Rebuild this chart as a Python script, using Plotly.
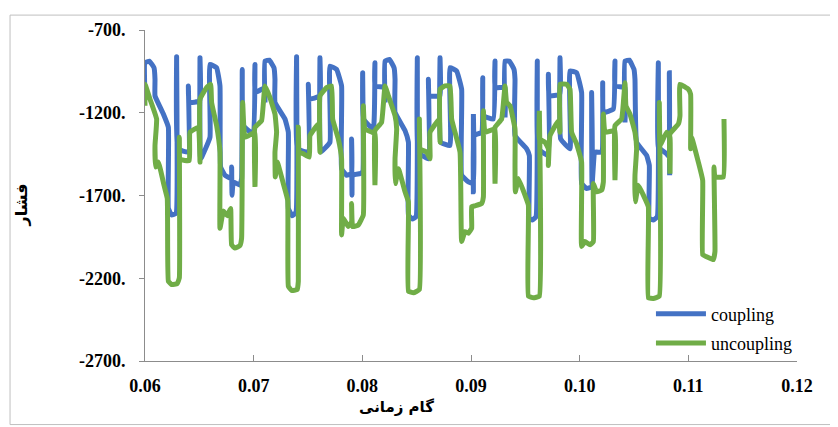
import plotly.graph_objects as go

# ---- data ----
coupling_x = [
    0.06000, 0.06000, 0.06040, 0.06083, 0.06092, 0.06092, 0.06169, 0.06215, 0.06215, 0.06245,
    0.06285, 0.06291, 0.06301, 0.06399, 0.06399, 0.06405, 0.06506, 0.06506, 0.06512, 0.06598,
    0.06598, 0.06659, 0.06690, 0.06696, 0.06736, 0.06797, 0.06797, 0.06801, 0.06813, 0.06874,
    0.06889, 0.06895, 0.06905, 0.06997, 0.07012, 0.07012,
    0.07104, 0.07104, 0.07104, 0.07144, 0.07187, 0.07196, 0.07196, 0.07288, 0.07319, 0.07319,
    0.07355, 0.07389, 0.07395, 0.07401, 0.07503, 0.07503, 0.07509, 0.07610, 0.07610, 0.07616,
    0.07702, 0.07702, 0.07763, 0.07809, 0.07809, 0.07855, 0.07901, 0.07901, 0.07905, 0.07911,
    0.07978, 0.08003, 0.08003, 0.08009, 0.08101, 0.08116, 0.08116,
    0.08209, 0.08209, 0.08209, 0.08249, 0.08292, 0.08301, 0.08301, 0.08393, 0.08424, 0.08424,
    0.08460, 0.08494, 0.08506, 0.08513, 0.08608, 0.08608, 0.08614, 0.08715, 0.08715, 0.08721,
    0.08807, 0.08807, 0.08868, 0.08914, 0.08914, 0.08976, 0.09022, 0.09022, 0.09022, 0.09028,
    0.09098, 0.09108, 0.09114, 0.09206, 0.09221, 0.09221,
    0.09313, 0.09313, 0.09313, 0.09353, 0.09396, 0.09405, 0.09405, 0.09512, 0.09537, 0.09537,
    0.09564, 0.09598, 0.09610, 0.09617, 0.09712, 0.09712, 0.09718, 0.09819, 0.09819, 0.09825,
    0.09911, 0.09911, 0.09972, 0.10018, 0.10018, 0.10064, 0.10110, 0.10110, 0.10114, 0.10141,
    0.10202, 0.10212, 0.10218, 0.10310, 0.10325, 0.10325,
    0.10417, 0.10417, 0.10417, 0.10457, 0.10500, 0.10509, 0.10524, 0.10616, 0.10641, 0.10641,
    0.10678, 0.10714, 0.10724, 0.10724, 0.10800, 0.10825, 0.10825, 0.10828,
]
coupling_y = [
    -1118, -898, -888, -928, -998, -1098, -1208, -1288, -1778, -1818,
    -1808, -862, -1418, -1438, -1038, -1138, -1128, -868, -1478, -1348,
    -908, -928, -1038, -1528, -1578, -1598, -1528, -1698, -1618, -1638,
    -1598, -938, -1278, -1328, -908, -1078,
    -1048, -1138, -888, -882, -928, -998, -1138, -1238, -1318, -1778,
    -1822, -1802, -862, -1418, -1438, -1028, -1118, -1098, -868, -1438,
    -1378, -918, -938, -1038, -1538, -1578, -1568, -1358, -1698, -1578,
    -1568, -1558, -958, -1238, -1298, -898, -1038,
    -1048, -1138, -888, -878, -928, -998, -1198, -1308, -1378, -1818,
    -1842, -1828, -868, -1438, -1478, -998, -1098, -1098, -868, -1378,
    -1398, -928, -948, -1058, -1578, -1618, -1628, -1208, -1678, -1338,
    -1318, -988, -1218, -1238, -888, -1048,
    -1048, -1228, -888, -888, -938, -998, -1338, -1418, -1458, -1838,
    -1848, -1828, -888, -1418, -1458, -968, -1098, -1088, -868, -1358,
    -1418, -948, -958, -1078, -1628, -1658, -1648, -1078, -1638, -1438,
    -1438, -1018, -1198, -1178, -888, -1038,
    -1048, -1258, -888, -882, -938, -998, -1378, -1458, -1518, -1838,
    -1848, -1828, -898, -1408, -1448, -1468, -958, -1578,
]

uncoupling_x = [
    0.06000, 0.06000, 0.06046, 0.06107, 0.06092, 0.06098, 0.06123, 0.06175, 0.06205, 0.06215,
    0.06245, 0.06297, 0.06316, 0.06316, 0.06322, 0.06368, 0.06408, 0.06414, 0.06491, 0.06506,
    0.06506, 0.06567, 0.06604, 0.06613, 0.06659, 0.06690, 0.06690, 0.06721, 0.06757, 0.06788,
    0.06797, 0.06828, 0.06874, 0.06889, 0.06899, 0.06920, 0.07012, 0.07012, 0.07012, 0.07073,
    0.07104, 0.07150, 0.07196, 0.07211, 0.07196, 0.07199, 0.07217, 0.07273, 0.07313, 0.07319,
    0.07349, 0.07401, 0.07411, 0.07411, 0.07420, 0.07457, 0.07512, 0.07518, 0.07595, 0.07610,
    0.07610, 0.07671, 0.07717, 0.07727, 0.07779, 0.07809, 0.07809, 0.07825, 0.07871, 0.07901,
    0.07901, 0.07911, 0.07963, 0.08009, 0.08009, 0.08024, 0.08116, 0.08116, 0.08116, 0.08177,
    0.08209, 0.08240, 0.08301, 0.08316, 0.08301, 0.08304, 0.08332, 0.08393, 0.08424, 0.08424,
    0.08470, 0.08525, 0.08525, 0.08531, 0.08592, 0.08623, 0.08623, 0.08709, 0.08715, 0.08715,
    0.08761, 0.08807, 0.08822, 0.08899, 0.08914, 0.08945, 0.08976, 0.09006, 0.09006, 0.09037,
    0.09098, 0.09114, 0.09114, 0.09129, 0.09221, 0.09221, 0.09221, 0.09282,
    0.09313, 0.09328, 0.09359, 0.09405, 0.09405, 0.09408, 0.09436, 0.09497, 0.09528, 0.09528,
    0.09574, 0.09629, 0.09629, 0.09629, 0.09681, 0.09712, 0.09712, 0.09727, 0.09804, 0.09819,
    0.09819, 0.09880, 0.09911, 0.09926, 0.09972, 0.10018, 0.10018, 0.10049, 0.10095, 0.10126,
    0.10126, 0.10156, 0.10202, 0.10218, 0.10218, 0.10233, 0.10325, 0.10325, 0.10325, 0.10386,
    0.10417, 0.10426, 0.10463, 0.10509, 0.10524, 0.10509, 0.10512, 0.10540, 0.10586, 0.10632,
    0.10632, 0.10678, 0.10733, 0.10733, 0.10739, 0.10800, 0.10831, 0.10831, 0.10831, 0.10908,
    0.10923, 0.10923, 0.11000, 0.11021, 0.11021, 0.11030, 0.11092, 0.11132, 0.11132, 0.11162,
    0.11230, 0.11245, 0.11236, 0.11245, 0.11322, 0.11328,
]
uncoupling_y = [
    -1158, -1028, -1118, -1238, -1398, -1528, -1498, -1638, -1718, -2218,
    -2238, -2232, -2198, -1348, -1478, -1488, -1488, -1318, -1288, -1498,
    -1118, -1048, -1028, -1138, -1278, -1438, -1898, -1794, -1822, -1778,
    -1998, -2018, -2002, -1958, -1138, -1348, -1318, -1648, -1288, -1248,
    -1038, -1108, -1208, -1318, -1438, -1588, -1498, -1628, -1728, -2248,
    -2274, -2268, -2218, -1288, -1438, -1448, -1468, -1338, -1268, -1438,
    -1098, -1048, -1038, -1238, -1358, -1478, -1938, -1838, -1888, -1858,
    -1748, -1888, -1878, -1818, -1158, -1298, -1328, -1638, -1308, -1258,
    -1038, -1098, -1218, -1298, -1478, -1628, -1538, -1678, -1738, -2278,
    -2288, -2268, -1238, -1418, -1438, -1478, -1318, -1238, -1378, -1058,
    -1038, -1038, -1238, -1438, -1978, -1918, -1928, -1898, -1768, -1762,
    -1748, -1708, -1188, -1318, -1298, -1628, -1288, -1238,
    -1038, -1138, -1158, -1298, -1518, -1678, -1598, -1698, -1758, -2308,
    -2318, -2308, -1188, -1358, -1378, -1418, -1518, -1338, -1248, -1318,
    -1028, -1028, -1058, -1318, -1388, -1498, -2008, -1978, -1998, -1978,
    -1628, -1678, -1668, -1618, -1208, -1318, -1308, -1608, -1278, -1238,
    -1018, -1158, -1208, -1318, -1418, -1578, -1738, -1638, -1698, -1768,
    -2318, -2322, -2308, -1138, -1398, -1318, -1348, -1568, -1328, -1268,
    -1218, -1028, -1058, -1088, -1418, -1348, -1498, -1608, -2058, -2068,
    -2088, -2038, -1528, -1588, -1588, -1238,
]

x_ticks = [0.06, 0.07, 0.08, 0.09, 0.10, 0.11, 0.12]
x_ticktext = ["0.06", "0.07", "0.08", "0.09", "0.10", "0.11", "0.12"]
y_ticks = [-2700, -2200, -1700, -1200, -700]
y_ticktext = ["-2700.", "-2200.", "-1700.", "-1200.", "-700."]

BLUE = "#4472C4"
GREEN = "#70AD47"
AXIS = "#8C8C8C"
SERIF = "Liberation Serif, Times New Roman, serif"
ARABIC = "DejaVu Sans, sans-serif"

fig = go.Figure()
fig.add_trace(go.Scatter(x=coupling_x, y=coupling_y, mode="lines", name="coupling",
                         legendgroup="a",
                         line=dict(color=BLUE, width=5, shape="spline", smoothing=0.3)))
fig.add_trace(go.Scatter(x=uncoupling_x, y=uncoupling_y, mode="lines", name="uncoupling",
                         legendgroup="b",
                         line=dict(color=GREEN, width=5, shape="spline", smoothing=0.3)))

# the page body has an 8px margin, so the figure is sized to fit inside it
fig.update_layout(
    width=830, height=419,
    margin=dict(l=137, r=41, t=19, b=66),
    paper_bgcolor="white", plot_bgcolor="white",
    showlegend=True,
    legend=dict(x=0.776, y=0.198, xanchor="left", yanchor="top",
                bgcolor="rgba(0,0,0,0)", traceorder="grouped", tracegroupgap=3,
                itemwidth=50,
                font=dict(family=SERIF, size=18, color="black")),
    xaxis=dict(range=[0.06, 0.12], tickvals=x_ticks, ticktext=x_ticktext,
               showgrid=False, zeroline=False, showline=True, linecolor=AXIS, linewidth=1,
               ticks="inside", ticklen=6, tickcolor=AXIS,
               tickfont=dict(family=SERIF, size=18, color="black", weight="bold"),
               ticklabelstandoff=8),
    yaxis=dict(range=[-2700, -700], tickvals=y_ticks, ticktext=y_ticktext,
               showgrid=False, zeroline=False, showline=True, linecolor=AXIS, linewidth=1,
               ticks="outside", ticklen=5, tickcolor=AXIS,
               tickfont=dict(family=SERIF, size=18, color="black", weight="bold"),
               ticklabelstandoff=10),
    annotations=[
        dict(text="گام زمانی", xref="paper", yref="paper", x=0.385, y=-0.14,
             xanchor="center", yanchor="middle", showarrow=False,
             font=dict(family=ARABIC, size=15, color="black", weight="bold")),
        dict(text="فشار", xref="paper", yref="paper", x=-0.19, y=0.47,
             xanchor="center", yanchor="middle", showarrow=False, textangle=-90,
             font=dict(family=ARABIC, size=16, color="black", weight="bold")),
    ],
    shapes=[dict(type="rect", xref="paper", yref="paper", x0=-0.207, x1=1.058,
                 y0=-0.192, y1=1.045, line=dict(color="#BFBFBF", width=1),
                 fillcolor="rgba(0,0,0,0)", layer="below")],
)

fig.write_html("out.html")
